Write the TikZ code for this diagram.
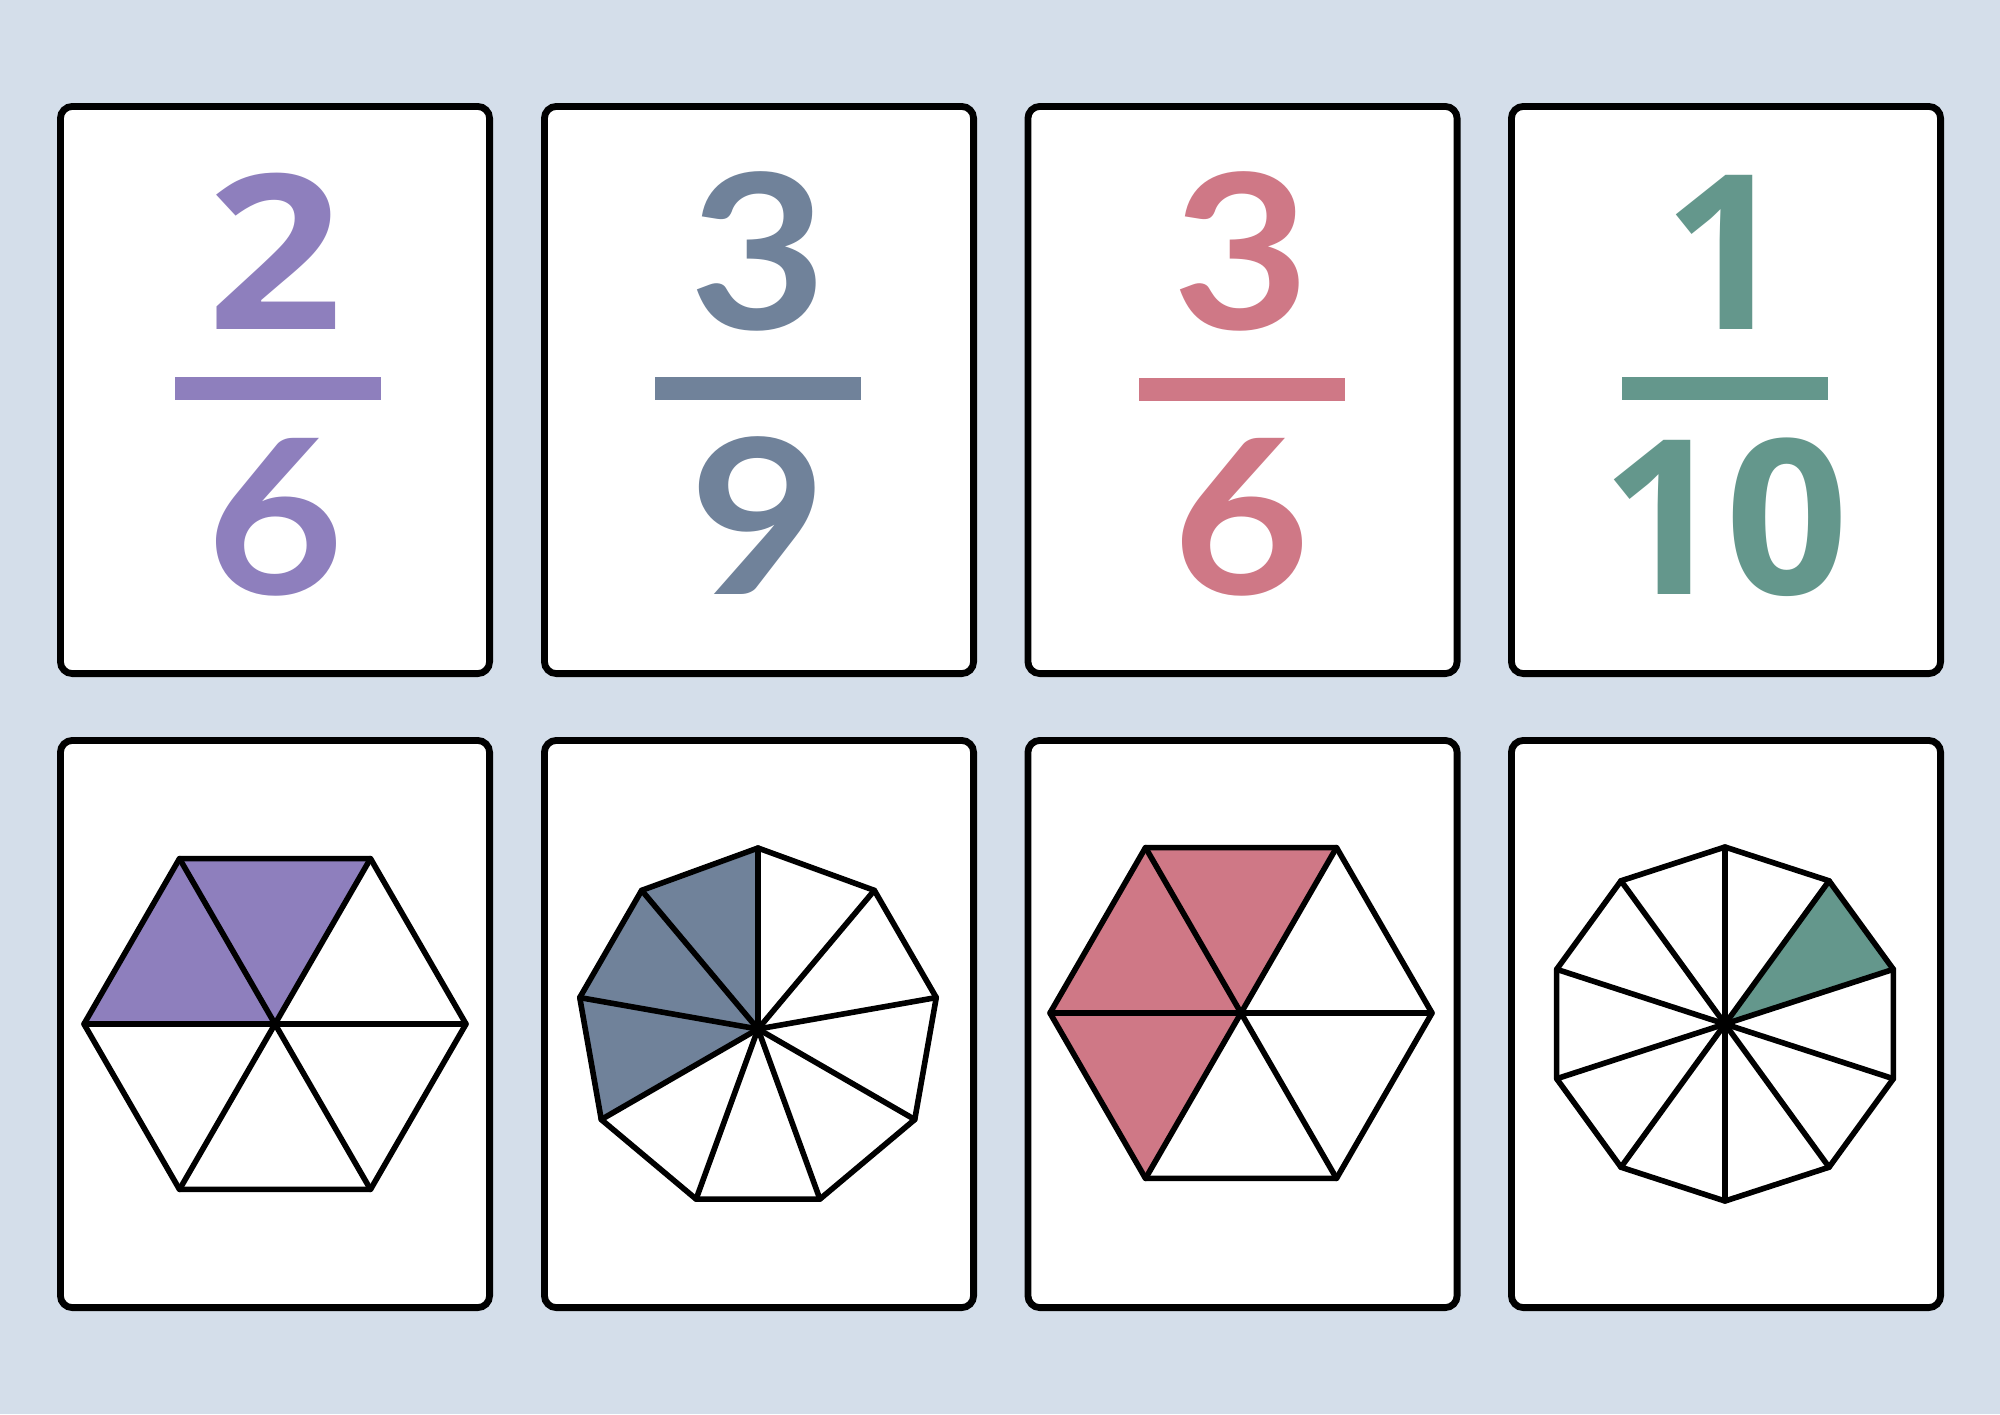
\documentclass[tikz,border=0pt]{standalone}
\usepackage{graphicx}
\usepackage{fontspec}
\newfontfamily\digitfont{Lato}
\newfontfamily\digitfontb{Open Sans}
\definecolor{bg}{HTML}{D4DEEA}
\definecolor{cpurple}{HTML}{8E7FBD}
\definecolor{cslate}{HTML}{70829A}
\definecolor{cpink}{HTML}{CF7886}
\definecolor{cgreen}{HTML}{64978C}
\newcommand{\widedigit}[1]{\scalebox{1.1}[1]{#1}}
\begin{document}
\begin{tikzpicture}[x=0.5pt,y=-0.5pt,
  card/.style={draw=black, line width=3.4pt, fill=white, rounded corners=6pt},
  poly/.style={draw=black, line width=2.8pt, line join=round, line cap=round},
  num/.style={anchor=base, inner sep=0pt, font=\digitfont\bfseries\fontsize{108}{108}\selectfont},
  numb/.style={anchor=base, inner sep=0pt, font=\digitfontb\bfseries\fontsize{108}{108}\selectfont}]
\fill[bg] (0,0) rectangle (2000,1414);
\useasboundingbox (0,0) rectangle (2000,1414);
% cards
\foreach \xl [count=\i] in {57,541,1024.5,1508}{
  \draw[card] (\xl+3.4,106.4) rectangle (\xl+432.6,673.6);
  \draw[card] (\xl+3.4,740.4) rectangle (\xl+432.6,1307.6);
}
% fractions
\node[numb, text=cpurple] (n1) at (275,329) {\widedigit{2}};
\fill[cpurple] (175,377) rectangle (381,400);
\node[num, text=cpurple] (d1) at (275,594) {\widedigit{6}};

\node[num, text=cslate] (n2) at (758,329) {\widedigit{3}};
\fill[cslate] (655,377) rectangle (861,400);
\node[num, text=cslate] (d2) at (758,594) {\widedigit{9}};

\node[num, text=cpink] (n3) at (1241.5,329) {\widedigit{3}};
\fill[cpink] (1138.5,378) rectangle (1344.5,401);
\node[num, text=cpink] (d3) at (1241.5,594) {\widedigit{6}};

\node[numb, text=cgreen] (n4) at (1725,329) {1};
\fill[cgreen] (1622,377) rectangle (1828,400);
\node[numb, text=cgreen] (d4) at (1725,594) {10};

% card 1 hexagon
\begin{scope}[shift={(275,1024)}, y=0.5pt]
  \coordinate (ac) at (0,0);
  \foreach \k in {0,...,5} \coordinate (av\k) at (\k*60:191);
  \fill[cpurple] (ac) -- (av1) -- (av2) -- (av3) -- cycle;
  \draw[poly] (av0) -- (av1) -- (av2) -- (av3) -- (av4) -- (av5) -- cycle;
  \foreach \k in {0,...,5} \draw[poly] (ac) -- (av\k);
\end{scope}
% card 2 nonagon
\begin{scope}[shift={(758,1029)}, y=0.5pt]
  \coordinate (bc) at (0,0);
  \foreach \k in {0,...,8} \coordinate (bv\k) at (90+\k*40:181);
  \fill[cslate] (bc) -- (bv0) -- (bv1) -- (bv2) -- (bv3) -- cycle;
  \draw[poly] (bv0) -- (bv1) -- (bv2) -- (bv3) -- (bv4) -- (bv5) -- (bv6) -- (bv7) -- (bv8) -- cycle;
  \foreach \k in {0,...,8} \draw[poly] (bc) -- (bv\k);
\end{scope}
% card 3 hexagon
\begin{scope}[shift={(1241,1013)}, y=0.5pt]
  \coordinate (cc) at (0,0);
  \foreach \k in {0,...,5} \coordinate (cv\k) at (\k*60:191);
  \fill[cpink] (cc) -- (cv1) -- (cv2) -- (cv3) -- (cv4) -- cycle;
  \draw[poly] (cv0) -- (cv1) -- (cv2) -- (cv3) -- (cv4) -- (cv5) -- cycle;
  \foreach \k in {0,...,5} \draw[poly] (cc) -- (cv\k);
\end{scope}
% card 4 decagon
\begin{scope}[shift={(1725,1024)}, y=0.5pt]
  \coordinate (dc) at (0,0);
  \foreach \k in {0,...,9} \coordinate (dv\k) at (90+\k*36:177);
  \fill[cgreen] (dc) -- (dv8) -- (dv9) -- cycle;
  \draw[poly] (dv0) -- (dv1) -- (dv2) -- (dv3) -- (dv4) -- (dv5) -- (dv6) -- (dv7) -- (dv8) -- (dv9) -- cycle;
  \foreach \k in {0,...,9} \draw[poly] (dc) -- (dv\k);
\end{scope}
\end{tikzpicture}
\end{document}
